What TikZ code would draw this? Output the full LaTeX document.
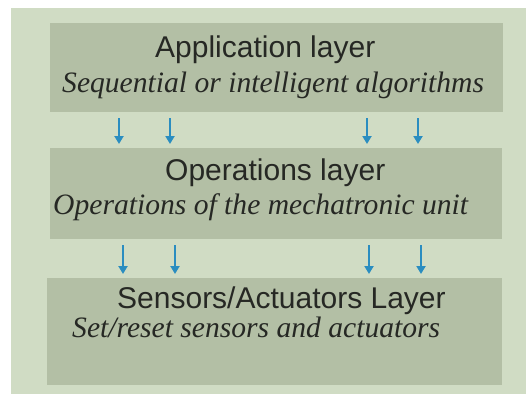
\documentclass[tikz,border=0pt]{standalone}
\usepackage{fontspec}
\setmainfont{Liberation Serif}
\setsansfont{Liberation Sans}
\usetikzlibrary{arrows.meta}
\definecolor{bgout}{RGB}{208,220,196}
\definecolor{boxc}{RGB}{179,191,165}
\definecolor{arrc}{RGB}{42,141,192}
\definecolor{txt}{RGB}{38,40,36}
\begin{document}
\begin{tikzpicture}[x=1pt,y=-1pt,
  layerbox/.style={fill=boxc, draw=none, anchor=north west, inner sep=0},
  head/.style={anchor=base west, inner sep=0, font=\sffamily\fontsize{30}{30}\selectfont, text=txt},
  sub/.style={anchor=base west, inner sep=0, font=\itshape\fontsize{29.6}{29.6}\selectfont, text=txt},
  arr/.style={draw=arrc, line width=2.2pt, -{Triangle[width=9pt,length=8pt]}, shorten <=6pt, shorten >=4pt}]
\useasboundingbox (0,0) rectangle (526,394);
\fill[white] (0,0) rectangle (526,394);
\fill[bgout] (11,8) rectangle (526,394);
\node[layerbox, minimum width=453pt, minimum height=89pt] (b1) at (50,23) {};
\node[layerbox, minimum width=452pt, minimum height=91pt] (b2) at (50,148) {};
\node[layerbox, minimum width=455pt, minimum height=107pt] (b3) at (47,278) {};
\node[head] (t1) at (155,57) {Application layer};
\node[sub] (s1) at (62,92) {Sequential or intelligent algorithms};
\node[head] (t2) at (165,180) {Operations layer};
\node[sub] (s2) at (53,214) {Operations of the mechatronic unit};
\node[head] (t3) at (117,308) {Sensors/Actuators Layer};
\node[sub] (s3) at (72,337) {Set/reset sensors and actuators};
\foreach \i/\x in {1/119,2/170,3/367,4/418}{
  \coordinate (ua\i) at (\x,0);
  \draw[arr] (b1.south -| ua\i) -- (b2.north -| ua\i);
}
\foreach \i/\x in {1/123,2/175,3/369,4/421}{
  \coordinate (la\i) at (\x,0);
  \draw[arr] (b2.south -| la\i) -- (b3.north -| la\i);
}
\end{tikzpicture}
\end{document}
